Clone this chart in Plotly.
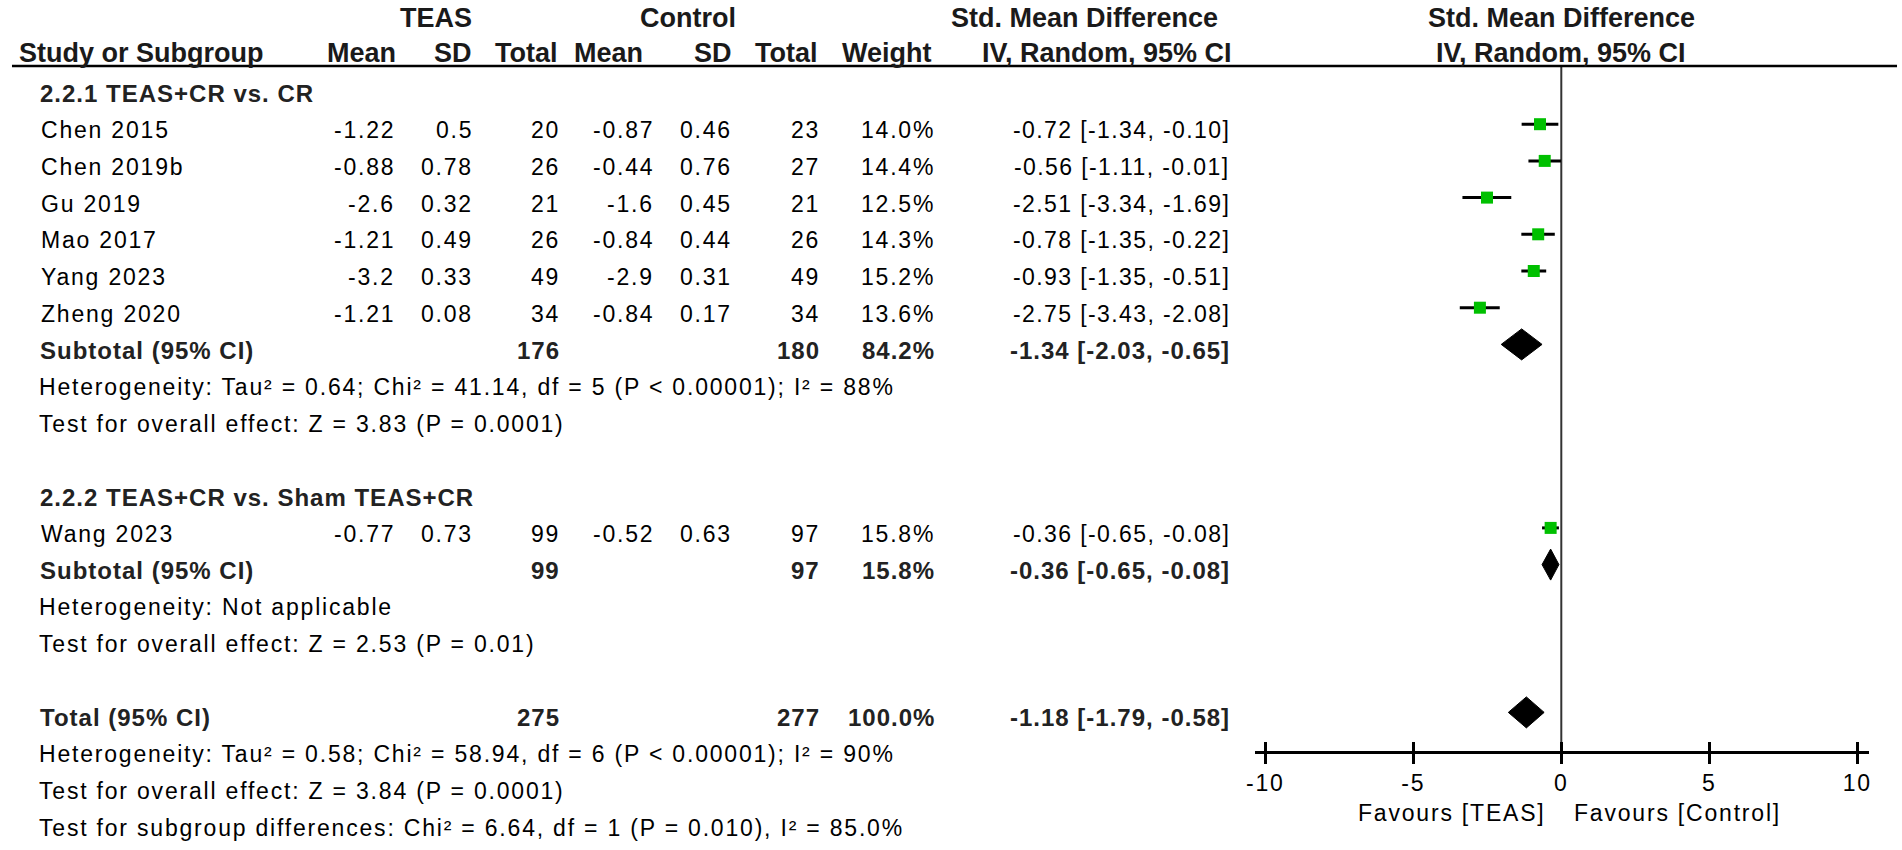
import plotly.graph_objects as go

W, H = 1902, 850

# ---------------- data ----------------
studies = ["Chen 2015", "Chen 2019b", "Gu 2019", "Mao 2017", "Yang 2023", "Zheng 2020", "Wang 2023"]
study_group = [0, 0, 0, 0, 0, 0, 1]
teas_mean = [-1.22, -0.88, -2.6, -1.21, -3.2, -1.21, -0.77]
teas_sd = [0.5, 0.78, 0.32, 0.49, 0.33, 0.08, 0.73]
teas_n = [20, 26, 21, 26, 49, 34, 99]
ctrl_mean = [-0.87, -0.44, -1.6, -0.84, -2.9, -0.84, -0.52]
ctrl_sd = [0.46, 0.76, 0.45, 0.44, 0.31, 0.17, 0.63]
ctrl_n = [23, 27, 21, 26, 49, 34, 97]
weight = [14.0, 14.4, 12.5, 14.3, 15.2, 13.6, 15.8]
smd = [-0.72, -0.56, -2.51, -0.78, -0.93, -2.75, -0.36]
ci_lo = [-1.34, -1.11, -3.34, -1.35, -1.35, -3.43, -0.65]
ci_hi = [-0.10, -0.01, -1.69, -0.22, -0.51, -2.08, -0.08]

group_titles = ["2.2.1 TEAS+CR vs. CR", "2.2.2 TEAS+CR vs. Sham TEAS+CR"]
sub_teas_n = [176, 99]
sub_ctrl_n = [180, 97]
sub_weight = [84.2, 15.8]
sub_smd = [-1.34, -0.36]
sub_lo = [-2.03, -0.65]
sub_hi = [-0.65, -0.08]
sub_het = ["Heterogeneity: Tau² = 0.64; Chi² = 41.14, df = 5 (P &lt; 0.00001); I² = 88%",
           "Heterogeneity: Not applicable"]
sub_test = ["Test for overall effect: Z = 3.83 (P = 0.0001)",
            "Test for overall effect: Z = 2.53 (P = 0.01)"]

tot_teas_n = 275
tot_ctrl_n = 277
tot_weight = 100.0
tot_smd = -1.18
tot_lo = -1.79
tot_hi = -0.58
tot_lines = ["Heterogeneity: Tau² = 0.58; Chi² = 58.94, df = 6 (P &lt; 0.00001); I² = 90%",
             "Test for overall effect: Z = 3.84 (P = 0.0001)",
             "Test for subgroup differences: Chi² = 6.64, df = 1 (P = 0.010), I² = 85.0%"]

tick_vals = [-10, -5, 0, 5, 10]
tick_text = ["-10", "-5", "0", "5", "10"]
favours_left = "Favours [TEAS]"
favours_right = "Favours [Control]"

# ---------------- layout constants ----------------
ROW0 = 93.5
ROWH = 36.7
MK_OFF = -6
RULE_Y = 66
AXIS_Y = 752
X_M10, X_P10 = 1264.3, 1860.0
PPU = (X_P10 - X_M10) / 20.0
AX_L, AX_R = 1254.3, 1871.7
xr = [-10 + (AX_L - X_M10) / PPU, 10 + (AX_R - X_P10) / PPU]

COL = dict(name=30, tm=390, tsd=469, tn=557, cm=651, csd=730, cn=818, w=934, ci=1231)

BODY = dict(family="Liberation Sans, Arial", size=23, color="black")
BOLD = dict(family="Liberation Sans, Arial", size=24, color="#222222", weight="bold")
HEAD = dict(family="Liberation Sans, Arial", size=27, color="#1a1a1a", weight="bold")
LS_BODY = 1.8
LS_BOLD = 1.0
GREEN = "#00c000"


def sp(s, ls):
    return f'<span style="letter-spacing:{ls}px">{s}</span>'


def row_y(i):
    return ROW0 + ROWH * i


ann = []


def txt(x, y, s, font, anchor="right", ls=None):
    if ls is None:
        ls = LS_BOLD if font is BOLD else (0 if font is HEAD else LS_BODY)
    ann.append(dict(x=x / W, y=y, xref="paper", yref="y", text=sp(s, ls) if ls else s,
                    showarrow=False, xanchor=anchor, yanchor="middle", font=font))


# headers
txt(430, 18, "TEAS", HEAD, "center")
txt(683, 18, "Control", HEAD, "center")
txt(1082, 18, "Std. Mean Difference", HEAD, "center")
hdr2 = [(8, "Study or Subgroup", "left"), (391, "Mean", "right"), (468, "SD", "right"),
        (555, "Total", "right"), (640, "Mean", "right"), (730, "SD", "right"),
        (816, "Total", "right"), (931, "Weight", "right"), (1233, "IV, Random, 95% CI", "right")]
for x, s, a in hdr2:
    txt(x, 53, s, HEAD, a)
for yy, s in [(18, "Std. Mean Difference"), (53, "IV, Random, 95% CI")]:
    ann.append(dict(x=0, y=yy, xref="x", yref="y", text=s, showarrow=False,
                    xanchor="center", yanchor="middle", font=HEAD))


def ci_str(e, l, h):
    return f"{e:.2f} [{l:.2f}, {h:.2f}]"


fig = go.Figure()

row = 0
study_rows = []
sub_rows = []
for g in range(len(group_titles)):
    txt(COL["name"] - 1, row_y(row), group_titles[g], BOLD, "left")
    row += 1
    for k in range(len(studies)):
        if study_group[k] != g:
            continue
        y = row_y(row)
        study_rows.append(y)
        txt(COL["name"], y, studies[k], BODY, "left")
        txt(COL["tm"], y, str(teas_mean[k]), BODY)
        txt(COL["tsd"], y, str(teas_sd[k]), BODY)
        txt(COL["tn"], y, str(teas_n[k]), BODY)
        txt(COL["cm"], y, str(ctrl_mean[k]), BODY)
        txt(COL["csd"], y, str(ctrl_sd[k]), BODY)
        txt(COL["cn"], y, str(ctrl_n[k]), BODY)
        txt(COL["w"], y, f"{weight[k]:.1f}%", BODY)
        txt(COL["ci"], y, ci_str(smd[k], ci_lo[k], ci_hi[k]), BODY, ls=1.4)
        row += 1
    y = row_y(row)
    sub_rows.append(y)
    txt(COL["name"] - 1, y, "Subtotal (95% CI)", BOLD, "left")
    txt(COL["tn"], y, str(sub_teas_n[g]), BOLD)
    txt(COL["cn"], y, str(sub_ctrl_n[g]), BOLD)
    txt(COL["w"], y, f"{sub_weight[g]:.1f}%", BOLD)
    txt(COL["ci"], y, ci_str(sub_smd[g], sub_lo[g], sub_hi[g]), BOLD)
    row += 1
    txt(COL["name"] - 2, row_y(row), sub_het[g], BODY, "left")
    row += 1
    txt(COL["name"] - 2, row_y(row), sub_test[g], BODY, "left")
    row += 2

tot_y = row_y(row)
txt(COL["name"] - 1, tot_y, "Total (95% CI)", BOLD, "left")
txt(COL["tn"], tot_y, str(tot_teas_n), BOLD)
txt(COL["cn"], tot_y, str(tot_ctrl_n), BOLD)
txt(COL["w"], tot_y, f"{tot_weight:.1f}%", BOLD)
txt(COL["ci"], tot_y, ci_str(tot_smd, tot_lo, tot_hi), BOLD)
for j, s in enumerate(tot_lines):
    txt(COL["name"] - 2, row_y(row + 1 + j), s, BODY, "left")

# zero line
fig.add_trace(go.Scatter(x=[0, 0], y=[RULE_Y, AXIS_Y], mode="lines",
                         line=dict(color="#333333", width=2), hoverinfo="skip", showlegend=False))

# study squares with CI
fig.add_trace(go.Scatter(
    x=smd, y=[v + MK_OFF for v in study_rows], mode="markers",
    marker=dict(symbol="square", size=12, color=GREEN, line=dict(width=0)),
    error_x=dict(type="data", symmetric=False,
                 array=[h - e for h, e in zip(ci_hi, smd)],
                 arrayminus=[e - l for e, l in zip(smd, ci_lo)],
                 color="black", thickness=3, width=0),
    showlegend=False, hoverinfo="skip"))

# diamonds
HD = 15.5
dia = [(sub_smd[g], sub_lo[g], sub_hi[g], sub_rows[g] + MK_OFF) for g in range(len(group_titles))]
dia.append((tot_smd, tot_lo, tot_hi, tot_y + MK_OFF + 1))
for e, l, h, yc in dia:
    fig.add_trace(go.Scatter(x=[l, e, h, e, l], y=[yc, yc - HD, yc, yc + HD, yc], mode="lines",
                             fill="toself", fillcolor="black", line=dict(color="black", width=1),
                             showlegend=False, hoverinfo="skip"))

# dummy for overlay axis
fig.add_trace(go.Scatter(x=[0], y=[AXIS_Y], xaxis="x2", yaxis="y", mode="markers",
                         marker=dict(opacity=0), showlegend=False, hoverinfo="skip"))

# favours labels
ann.append(dict(x=0, y=813, xref="x", yref="y", text=sp(favours_left, LS_BODY), showarrow=False,
                xanchor="right", xshift=-13, yanchor="middle", font=BODY))
ann.append(dict(x=0, y=813, xref="x", yref="y", text=sp(favours_right, LS_BODY), showarrow=False,
                xanchor="left", xshift=11, yanchor="middle", font=BODY))

pos = 1 - AXIS_Y / H
dom = [AX_L / W, AX_R / W]
fig.update_layout(
    width=W, height=H, margin=dict(l=0, r=0, t=0, b=0),
    paper_bgcolor="white", plot_bgcolor="white",
    xaxis=dict(domain=dom, range=xr, anchor="free", position=pos, showline=True, linecolor="black",
               linewidth=2.5, ticks="outside", ticklen=10, tickwidth=2.5, tickcolor="black",
               tickvals=tick_vals, ticktext=[sp(t, LS_BODY) for t in tick_text], tickfont=BODY,
               showgrid=False, zeroline=False, ticklabelstandoff=0),
    xaxis2=dict(domain=dom, range=xr, anchor="free", position=pos, overlaying="x", showline=False,
                ticks="inside", ticklen=10, tickwidth=2.5, tickcolor="black", tickvals=tick_vals,
                showticklabels=False, showgrid=False, zeroline=False),
    yaxis=dict(domain=[0, 1], range=[H, 0], visible=False, showgrid=False, zeroline=False),
    annotations=ann,
    shapes=[dict(type="line", xref="paper", yref="y", x0=3 / W, x1=1900 / W, y0=RULE_Y, y1=RULE_Y,
                 line=dict(color="black", width=2.5))],
)

fig.write_html("out.html", config={"displayModeBar": False},
               post_script="document.body.style.margin='0';document.body.style.overflow='hidden';")
